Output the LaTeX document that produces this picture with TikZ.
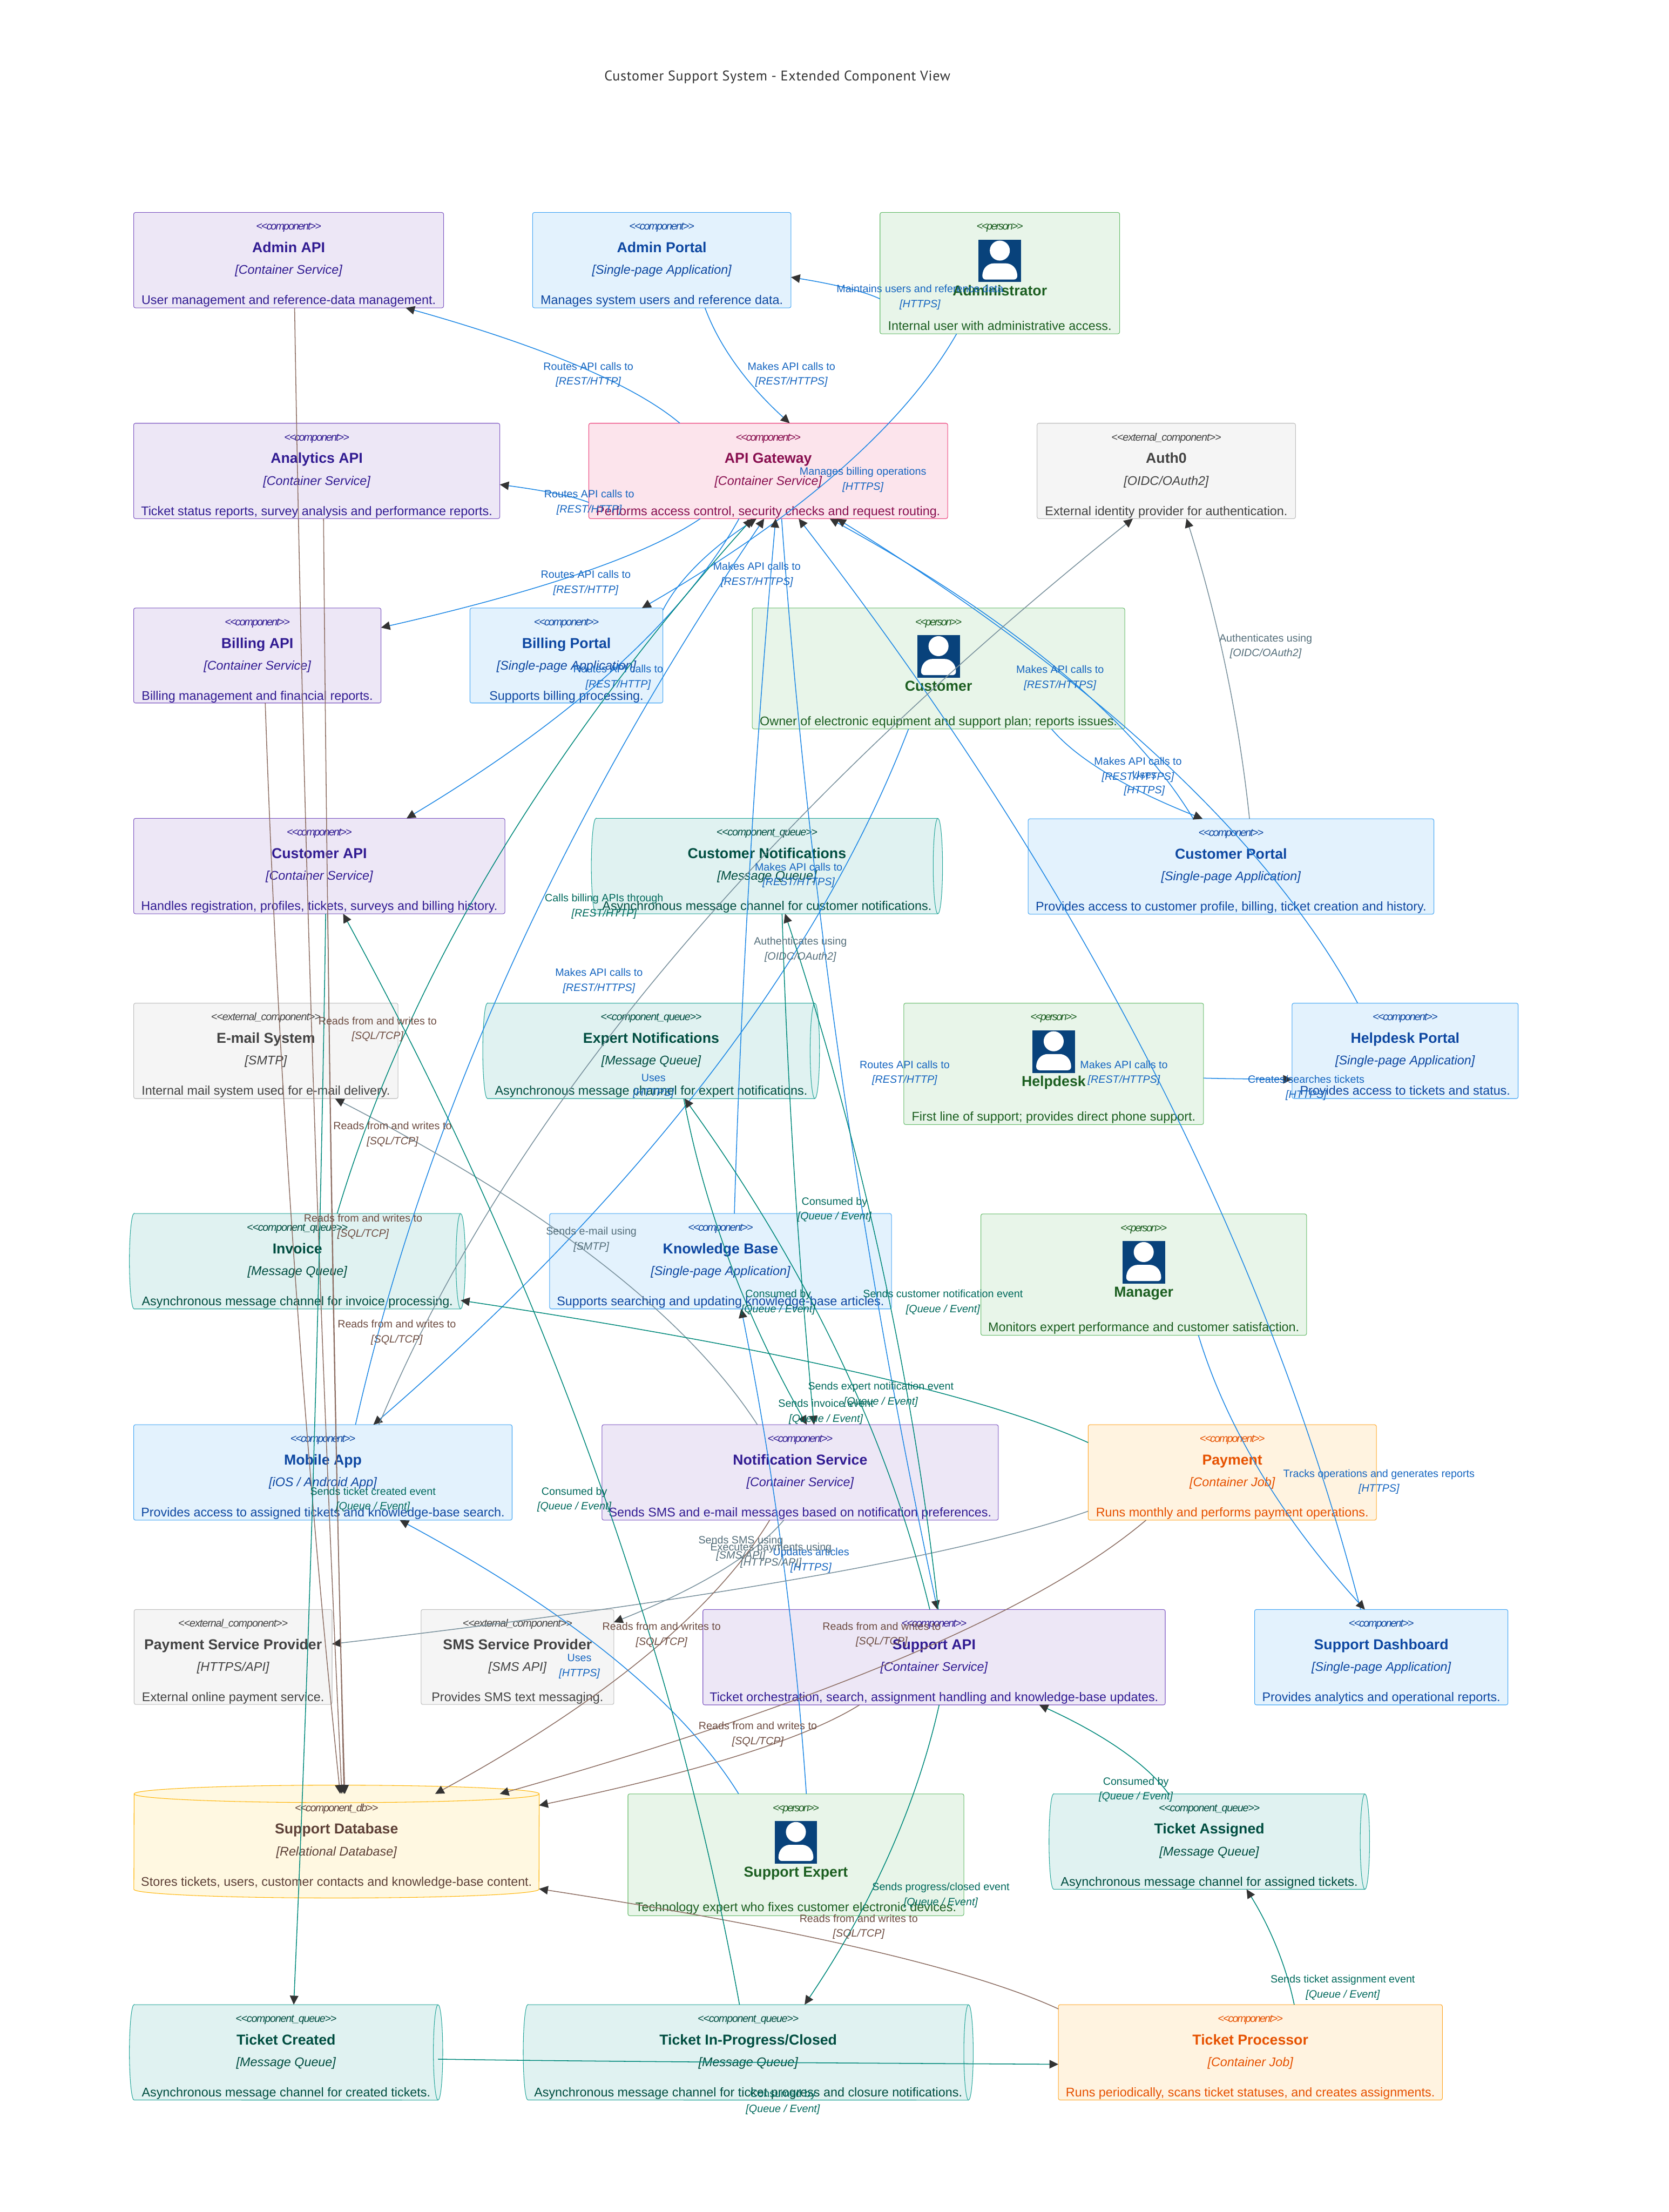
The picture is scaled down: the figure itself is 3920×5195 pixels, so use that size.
\documentclass[tikz,border=0pt]{standalone}
\usepackage{fontspec}
\setmainfont{Liberation Sans}
\newfontfamily\stfont{Liberation Sans}
\newfontfamily\titlefont{PT Sans}[LetterSpace=2.7]
\usetikzlibrary{arrows.meta,calc,fit}
\definecolor{fPurple}{HTML}{EDE7F6}\definecolor{sPurple}{HTML}{7E57C2}\definecolor{tPurple}{HTML}{311B92}
\definecolor{fBlue}{HTML}{E3F2FD}\definecolor{sBlue}{HTML}{42A5F5}\definecolor{tBlue}{HTML}{0D47A1}
\definecolor{fPink}{HTML}{FCE4EC}\definecolor{sPink}{HTML}{EC407A}\definecolor{tPink}{HTML}{880E4F}
\definecolor{fGreen}{HTML}{E8F5E9}\definecolor{sGreen}{HTML}{66BB6A}\definecolor{tGreen}{HTML}{1B5E20}
\definecolor{fGrey}{HTML}{F5F5F5}\definecolor{sGrey}{HTML}{BDBDBD}\definecolor{tGrey}{HTML}{424242}
\definecolor{fTeal}{HTML}{E0F2F1}\definecolor{sTeal}{HTML}{26A69A}\definecolor{tTeal}{HTML}{004D40}
\definecolor{fOrange}{HTML}{FFF3E0}\definecolor{sOrange}{HTML}{FFA726}\definecolor{tOrange}{HTML}{E65100}
\definecolor{fYellow}{HTML}{FFF8E1}\definecolor{sYellow}{HTML}{FFB300}\definecolor{tYellow}{HTML}{5D4037}
\definecolor{lnBlue}{HTML}{1E88E5}\definecolor{lbBlue}{HTML}{1565C0}
\definecolor{lnTeal}{HTML}{00897B}\definecolor{lbTeal}{HTML}{00695C}
\definecolor{lnBrown}{HTML}{8D6E63}\definecolor{lbBrown}{HTML}{6D4C41}
\definecolor{lnGrey}{HTML}{78909C}\definecolor{lbGrey}{HTML}{546E7A}
\definecolor{headc}{HTML}{333333}\definecolor{iconc}{HTML}{08427B}
\tikzset{
  cnode/.style={rectangle,rounded corners=1.2pt,inner sep=0pt,outer sep=0pt,line width=.38pt},
  txt/.style={anchor=base,inner sep=0pt,outer sep=0pt},
  stt/.style={txt},
  ttl/.style={txt,font=\fontsize{9.62}{11}\selectfont\bfseries},
  tch/.style={txt,font=\fontsize{8.42}{10}\selectfont\itshape},
  dsc/.style={txt,font=\fontsize{8.42}{10}\selectfont},
  lbl/.style={align=center,inner sep=0pt,outer sep=0pt,font=\fontsize{7.11}{9.96}\selectfont},
  rel/.style={line width=.55pt,-{Triangle[length=2.1mm,width=2mm,color=headc,fill=headc]}},
  rblue/.style={rel,draw=lnBlue},
  rteal/.style={rel,draw=lnTeal},
  rbrown/.style={rel,draw=lnBrown},
  rgrey/.style={rel,draw=lnGrey},
  qcurve/.style={to path={let \p1=(\tikztostart),\p2=(\tikztotarget) in .. controls ({\x1+(\x2-\x1)/6},{\y1+(\y2-\y1)/3}) and ({(\x1+\x2)/2},{\y1+2*(\y2-\y1)/3}) .. (\tikztotarget)}}
}
% stereotype text: #1 letter spacing, #2 text
\newcommand\stereo[2]{{\stfont\fontsize{7.11}{9}\selectfont\itshape\addfontfeature{LetterSpace=#1}#2}}
% #1 node, #2 kind, #3 spacing, #4 stereotype, #5 name, #6 technology, #7 description
\newcommand\stdtext[7]{%
  \node[stt,text=t#2] (#1-st) at ($(#1.north)+(0,41)$) {\stereo{#3}{#4}};
  \node[ttl,text=t#2] (#1-na) at ($(#1.north)+(0,94)$) {#5};
  \node[tch,text=t#2] (#1-te) at ($(#1.north)+(0,145)$) {#6};
  \node[dsc,text=t#2] (#1-de) at ($(#1.north)+(0,216)$) {#7};
}
\newcommand\cbox[9]{%
  \node[cnode,draw=s#2,fill=f#2,fit={(#3)(#4)}] (#1) {};
  \stdtext{#1}{#2}{#5}{#6}{#7}{#8}{#9}
}
% queue: #1 name, #2 corner, #3 corner, #4 title, #5 description
\newcommand\qbox[5]{%
  \node[cnode,fit={(#2)(#3)}] (#1) {};
  \filldraw[draw=sTeal,fill=fTeal,line width=.38pt] ($(#1.north west)+(11,0)$) -- ($(#1.north east)+(-11,0)$)
     arc[start angle=90,end angle=-90,x radius=.11cm,y radius=1.12cm] -- ($(#1.south west)+(11,0)$)
     arc[start angle=270,end angle=90,x radius=.11cm,y radius=1.12cm] -- cycle;
  \draw[sTeal,line width=.38pt] ($(#1.north east)+(-11,0)$) arc[start angle=90,end angle=270,x radius=.11cm,y radius=1.12cm];
  \stdtext{#1}{Teal}{-6.3}{<<component\_queue>>}{#4}{[Message Queue]}{#5}
}
% person: #1 name, #2 corner, #3 corner, #4 title, #5 description
\newcommand\pbox[5]{%
  \node[cnode,draw=sGreen,fill=fGreen,fit={(#2)(#3)}] (#1) {};
  \node[stt,text=tGreen] (#1-st) at ($(#1.north)+(0,41)$) {\stereo{-11.5}{<<person>>}};
  \begin{scope}[shift={($(#1.north)+(0,113.5)$)}]
    \fill[iconc] (-50,-50) rectangle (50,50);
    \fill[white] (0,-24) circle[radius=.235cm];
    \fill[white] (-41,36) .. controls (-41,16) and (-27,6) .. (-14,6) -- (14,6) .. controls (27,6) and (41,16) .. (41,36)
       .. controls (41,41) and (37,44) .. (33,44) -- (-33,44) .. controls (-37,44) and (-41,41) .. (-41,36) -- cycle;
  \end{scope}
  \node[ttl,text=tGreen] (#1-na) at ($(#1.north)+(0,195)$) {#4};
  \node[dsc,text=tGreen] (#1-de) at ($(#1.north)+(0,276)$) {#5};
}
% label of a connector: #1 name, #2 colour, #3 position, #4 first line, #5 second line
\newcommand\rlab[5]{\node[lbl,text=#2] (#1) at (#3) {#4\\{\itshape #5}};}
\begin{document}
\begin{tikzpicture}[x=0.01cm,y=-0.01cm]
\path[fill=white,use as bounding box] (0,0) rectangle (3920,5195);
\node[anchor=base,inner sep=0pt,text=headc,font=\titlefont\fontsize{9.4}{11}\selectfont] (title) at (1826,189) {Customer Support System - Extended Component View};

% ---- boxes
\cbox{aapi}{Purple}{314,499}{1042,723}{-9.8}{<<component>>}{Admin API}{[Container Service]}{User management and reference-data management.}
\cbox{aportal}{Blue}{1251,499}{1858,723}{-9.8}{<<component>>}{Admin Portal}{[Single-page Application]}{Manages system users and reference data.}
\pbox{admin}{2067,499}{2630,784}{Administrator}{Internal user with administrative access.}
\cbox{anapi}{Purple}{314,994}{1174,1218}{-9.8}{<<component>>}{Analytics API}{[Container Service]}{Ticket status reports, survey analysis and performance reports.}
\cbox{gw}{Pink}{1383,994}{2226,1218}{-9.8}{<<component>>}{API Gateway}{[Container Service]}{Performs access control, security checks and request routing.}
\cbox{auth}{Grey}{2436,994}{3043,1218}{-5.2}{<<external\_component>>}{Auth0}{[OIDC/OAuth2]}{External identity provider for authentication.}
\cbox{bapi}{Purple}{314,1428}{895,1651}{-9.8}{<<component>>}{Billing API}{[Container Service]}{Billing management and financial reports.}
\cbox{bportal}{Blue}{1104,1428}{1557,1651}{-9.8}{<<component>>}{Billing Portal}{[Single-page Application]}{Supports billing processing.}
\pbox{cust}{1767,1428}{2642,1712}{Customer}{Owner of electronic equipment and support plan; reports issues.}
\cbox{capi}{Purple}{314,1922}{1186,2146}{-9.8}{<<component>>}{Customer API}{[Container Service]}{Handles registration, profiles, tickets, surveys and billing history.}
\qbox{cnq}{1389,1922}{2214,2146}{Customer Notifications}{Asynchronous message channel for customer notifications.}
\cbox{cportal}{Blue}{2415,1923}{3368,2147}{-9.8}{<<component>>}{Customer Portal}{[Single-page Application]}{Provides access to customer profile, billing, ticket creation and history.}
\cbox{mail}{Grey}{314,2356}{935,2580}{-5.2}{<<external\_component>>}{E-mail System}{[SMTP]}{Internal mail system used for e-mail delivery.}
\qbox{enq}{1134,2356}{1925,2580}{Expert Notifications}{Asynchronous message channel for expert notifications.}
\pbox{help}{2123,2356}{2827,2641}{Helpdesk}{First line of support; provides direct phone support.}
\cbox{hportal}{Blue}{3035,2356}{3566,2580}{-9.8}{<<component>>}{Helpdesk Portal}{[Single-page Application]}{Provides access to tickets and status.}
\qbox{inv}{304,2850}{1093,3074}{Invoice}{Asynchronous message channel for invoice processing.}
\cbox{kb}{Blue}{1291,2850}{2094,3074}{-9.8}{<<component>>}{Knowledge Base}{[Single-page Application]}{Supports searching and updating knowledge-base articles.}
\pbox{mgr}{2304,2851}{3069,3136}{Manager}{Monitors expert performance and customer satisfaction.}
\cbox{mob}{Blue}{314,3346}{1203,3570}{-9.8}{<<component>>}{Mobile App}{[iOS / Android App]}{Provides access to assigned tickets and knowledge-base search.}
\cbox{ns}{Purple}{1414,3346}{2345,3570}{-9.8}{<<component>>}{Notification Service}{[Container Service]}{Sends SMS and e-mail messages based on notification preferences.}
\cbox{pay}{Orange}{2556,3346}{3233,3570}{-9.8}{<<component>>}{Payment}{[Container Job]}{Runs monthly and performs payment operations.}
\cbox{psp}{Grey}{315,3780}{780,4003}{-5.2}{<<external\_component>>}{Payment Service Provider}{[HTTPS/API]}{External online payment service.}
\cbox{sms}{Grey}{989,3780}{1442,4003}{-5.2}{<<external\_component>>}{SMS Service Provider}{[SMS API]}{Provides SMS text messaging.}
\cbox{sapi}{Purple}{1651,3780}{2737,4004}{-9.8}{<<component>>}{Support API}{[Container Service]}{Ticket orchestration, search, assignment handling and knowledge-base updates.}
\cbox{dash}{Blue}{2947,3780}{3542,4004}{-9.8}{<<component>>}{Support Dashboard}{[Single-page Application]}{Provides analytics and operational reports.}
% database cylinder
\node[cnode,fit={(315,4213)(1266,4437)}] (db) {};
\filldraw[draw=sYellow,fill=fYellow,line width=.38pt] (db.north west) arc[start angle=180,end angle=0,x radius=4.755cm,y radius=.205cm] -- (db.south east)
   arc[start angle=0,end angle=-180,x radius=4.755cm,y radius=.205cm] -- cycle;
\draw[sYellow,line width=.38pt] (db.north west) arc[start angle=180,end angle=360,x radius=4.755cm,y radius=.205cm];
\stdtext{db}{Yellow}{-7.5}{<<component\_db>>}{Support Database}{[Relational Database]}{Stores tickets, users, customer contacts and knowledge-base content.}
\pbox{exp}{1475,4213}{2264,4499}{Support Expert}{Technology expert who fixes customer electronic devices.}
\qbox{tassign}{2464,4213}{3217,4437}{Ticket Assigned}{Asynchronous message channel for assigned tickets.}
\qbox{tcreated}{304,4708}{1040,4932}{Ticket Created}{Asynchronous message channel for created tickets.}
\qbox{tprog}{1229,4708}{2286,4932}{Ticket In-Progress/Closed}{Asynchronous message channel for ticket progress and closure notifications.}
\cbox{tproc}{Orange}{2486,4708}{3388,4932}{-9.8}{<<component>>}{Ticket Processor}{[Container Job]}{Runs periodically, scans ticket statuses, and creates assignments.}

% ---- connectors: HTTP calls
\draw[rblue] (admin.west |- 0,702) to[qcurve] (aportal.east |- 0,651);
\draw[rblue] (1656,0 |- aportal.south) to[qcurve] (1855,0 |- gw.north);
\draw[rblue] (1597,0 |- gw.north) to[qcurve] (953,0 |- aapi.south);
\draw[rblue] (gw.west |- 0,1180) to[qcurve] (anapi.east |- 0,1138);
\draw[rblue] (1645,0 |- gw.south) to[qcurve] (bapi.east |- 0,1474);
\draw[rblue] (2247,0 |- admin.south) to[qcurve] (1508,0 |- bportal.north);
\draw[rblue] (bportal.east |- 0,1433) to[qcurve] (1777,0 |- gw.south);
\draw[rblue] (1736,0 |- gw.south) to[qcurve] (955,0 |- capi.north);
\draw[rblue] (835,0 |- mob.north) to[qcurve] (1795,0 |- gw.south);
\draw[rblue] (1725,0 |- kb.north) to[qcurve] (1822,0 |- gw.south);
\draw[rblue] (1836,0 |- gw.south) to[qcurve] (2202,0 |- sapi.north);
\draw[rblue] (3196,0 |- dash.north) to[qcurve] (1876,0 |- gw.south);
\draw[rblue] (2803,0 |- cportal.north) to[qcurve] (1949,0 |- gw.south);
\draw[rblue] (3189,0 |- hportal.north) to[qcurve] (1966,0 |- gw.south);
\draw[rblue] (2470,0 |- cust.south) to[qcurve] (2825,0 |- cportal.north);
\draw[rblue] (2134,0 |- cust.south) to[qcurve] (877,0 |- mob.north);
\draw[rblue] (help.east |- 0,2532) to[qcurve] (hportal.west |- 0,2535);
\draw[rblue] (2815,0 |- mgr.south) to[qcurve] (3206,0 |- dash.north);
\draw[rblue] (1735,0 |- exp.north) to[qcurve] (939,0 |- mob.south);
\draw[rblue] (1894,0 |- exp.north) to[qcurve] (1741,0 |- kb.south);
% external systems
\draw[rgrey] (2935,0 |- cportal.north) to[qcurve] (2787,0 |- auth.south);
\draw[rgrey] (890,0 |- mob.north) to[qcurve] (2661,0 |- auth.south);
\draw[rgrey] (1779,0 |- ns.north) to[qcurve] (787,0 |- mail.south);
\draw[rgrey] (1841,0 |- ns.south) to[qcurve] (sms.east |- 0,3810);
\draw[rgrey] (pay.west |- 0,3549) to[qcurve] (psp.east |- 0,3861);
% database
\draw[rbrown] (692,0 |- aapi.south) to[qcurve] (803,0 |- db.north);
\draw[rbrown] (760,0 |- anapi.south) to[qcurve] (808,0 |- db.north);
\draw[rbrown] (623,0 |- bapi.south) to[qcurve] (799,0 |- db.north);
\draw[rbrown] (770,0 |- capi.south) to[qcurve] (810,0 |- db.north);
\draw[rbrown] (1808,0 |- ns.south) to[qcurve] (1022,0 |- db.north);
\draw[rbrown] (2692,0 |- pay.south) to[qcurve] (1174,0 |- db.north);
\draw[rbrown] (2019,0 |- sapi.south) to[qcurve] (db.east |- 0,4240);
\draw[rbrown] (tproc.west |- 0,4718) to[qcurve] (db.east |- 0,4436);
% queues
\draw[rteal] (765,0 |- capi.south) to[qcurve] (690,0 |- tcreated.north);
\draw[rteal] ($(tcreated.east)+(-11,16)$) to[qcurve] (tproc.west |- 0,4848);
\draw[rteal] (3040,0 |- tproc.north) to[qcurve] (2928,0 |- tassign.south);
\draw[rteal] (2745,0 |- tassign.north) to[qcurve] (2441,0 |- sapi.south);
\draw[rteal] (2206,0 |- sapi.south) to[qcurve] (1890,0 |- tprog.north);
\draw[rteal] (1737,0 |- tprog.north) to[qcurve] (806,0 |- capi.south);
\draw[rteal] (2184,0 |- sapi.north) to[qcurve] (1608,0 |- enq.south);
\draw[rteal] (2204,0 |- sapi.north) to[qcurve] (1844,0 |- cnq.south);
\draw[rteal] (1606,0 |- enq.south) to[qcurve] (1895,0 |- ns.north);
\draw[rteal] (1837,0 |- cnq.south) to[qcurve] (1912,0 |- ns.north);
\draw[rteal] (pay.west |- 0,3388) to[qcurve] ($(inv.east)+(-11,92)$);
\draw[rteal] (792,0 |- inv.north) to[qcurve] (1767,0 |- gw.south);

% ---- connector labels
\rlab{l01}{lbBlue}{2161,698}{Maintains users and reference data}{[HTTPS]}
\rlab{l02}{lbBlue}{1859,880}{Makes API calls to}{[REST/HTTPS]}
\rlab{l03}{lbBlue}{1382,880}{Routes API calls to}{[REST/HTTP]}
\rlab{l04}{lbBlue}{1384,1180}{Routes API calls to}{[REST/HTTP]}
\rlab{l05}{lbBlue}{1376,1369}{Routes API calls to}{[REST/HTTP]}
\rlab{l06}{lbBlue}{2027,1127}{Manages billing operations}{[HTTPS]}
\rlab{l07}{lbBlue}{1778,1350}{Makes API calls to}{[REST/HTTPS]}
\rlab{l08}{lbBlue}{1452,1591}{Routes API calls to}{[REST/HTTP]}
\rlab{l09}{lbBlue}{1407,2304}{Makes API calls to}{[REST/HTTPS]}
\rlab{l10}{lbBlue}{1876,2056}{Makes API calls to}{[REST/HTTPS]}
\rlab{l11}{lbBlue}{2125,2520}{Routes API calls to}{[REST/HTTP]}
\rlab{l12}{lbBlue}{2640,2520}{Makes API calls to}{[REST/HTTPS]}
\rlab{l13}{lbBlue}{2490,1592}{Makes API calls to}{[REST/HTTPS]}
\rlab{l14}{lbBlue}{2673,1808}{Makes API calls to}{[REST/HTTPS]}
\rlab{l15}{lbBlue}{2688,1840}{Uses}{[HTTPS]}
\rlab{l16}{lbBlue}{1535,2551}{Uses}{[HTTPS]}
\rlab{l17}{lbBlue}{3068,2555}{Creates/searches tickets}{[HTTPS]}
\rlab{l18}{lbBlue}{3239,3480}{Tracks operations and generates reports}{[HTTPS]}
\rlab{l19}{lbBlue}{1361,3914}{Uses}{[HTTPS]}
\rlab{l20}{lbBlue}{1905,3665}{Updates articles}{[HTTPS]}
\rlab{l21}{lbGrey}{2973,1518}{Authenticates using}{[OIDC/OAuth2]}
\rlab{l22}{lbGrey}{1880,2230}{Authenticates using}{[OIDC/OAuth2]}
\rlab{l23}{lbGrey}{1389,2911}{Sends e-mail using}{[SMTP]}
\rlab{l24}{lbGrey}{1740,3637}{Sends SMS using}{[SMS/API]}
\rlab{l25}{lbGrey}{1811,3653}{Executes payments using}{[HTTPS/API]}
\rlab{l26}{lbBrown}{887,2417}{Reads from and writes to}{[SQL/TCP]}
\rlab{l27}{lbBrown}{922,2664}{Reads from and writes to}{[SQL/TCP]}
\rlab{l28}{lbBrown}{853,2881}{Reads from and writes to}{[SQL/TCP]}
\rlab{l29}{lbBrown}{932,3129}{Reads from and writes to}{[SQL/TCP]}
\rlab{l30}{lbBrown}{1554,3840}{Reads from and writes to}{[SQL/TCP]}
\rlab{l31}{lbBrown}{2071,3839}{Reads from and writes to}{[SQL/TCP]}
\rlab{l32}{lbBrown}{1780,4073}{Reads from and writes to}{[SQL/TCP]}
\rlab{l33}{lbBrown}{2017,4525}{Reads from and writes to}{[SQL/TCP]}
\rlab{l34}{lbTeal}{876,3522}{Sends ticket created event}{[Queue / Event]}
\rlab{l35}{lbTeal}{1839,4937}{Consumed by}{[Queue / Event]}
\rlab{l36}{lbTeal}{3154,4668}{Sends ticket assignment event}{[Queue / Event]}
\rlab{l37}{lbTeal}{2668,4203}{Consumed by}{[Queue / Event]}
\rlab{l38}{lbTeal}{2210,4451}{Sends progress/closed event}{[Queue / Event]}
\rlab{l39}{lbTeal}{1349,3522}{Consumed by}{[Queue / Event]}
\rlab{l40}{lbTeal}{2069,3275}{Sends expert notification event}{[Queue / Event]}
\rlab{l41}{lbTeal}{2215,3058}{Sends customer notification event}{[Queue / Event]}
\rlab{l42}{lbTeal}{1828,3058}{Consumed by}{[Queue / Event]}
\rlab{l43}{lbTeal}{1960,2841}{Consumed by}{[Queue / Event]}
\rlab{l44}{lbTeal}{1940,3316}{Sends invoice event}{[Queue / Event]}
\rlab{l45}{lbTeal}{1419,2129}{Calls billing APIs through}{[REST/HTTP]}
\end{tikzpicture}
\end{document}
